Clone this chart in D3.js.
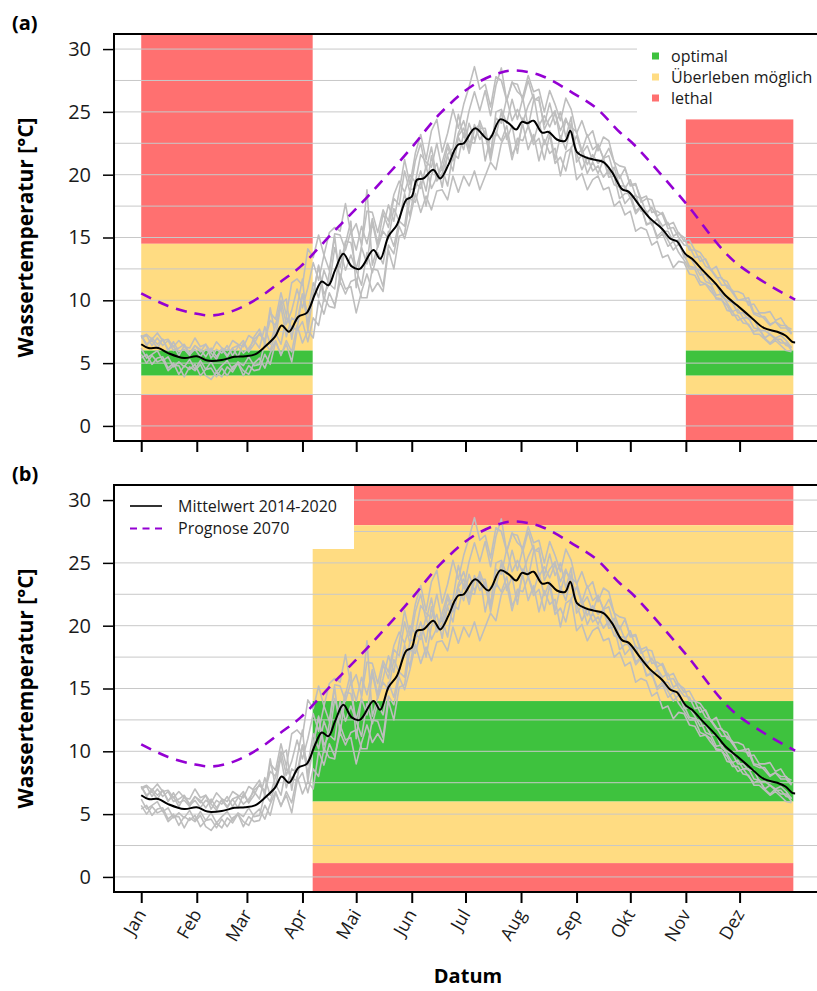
<!DOCTYPE html>
<html>
<head>
<meta charset="utf-8">
<script src="https://cdn.jsdelivr.net/npm/d3@7"></script>
<style>
  body { margin: 0; background: #fff; }
  svg { display: block; font-family: "Open Sans", sans-serif; }
</style>
</head>
<body>
<div id="chart"></div>
<script>
// Month ticks (day of year, 0 = 1 Jan)
const monthLabels = ['Jan', 'Feb', 'Mar', 'Apr', 'Mai', 'Jun', 'Jul', 'Aug', 'Sep', 'Okt', 'Nov', 'Dez'];
const monthStarts = [0, 31, 59, 90, 120, 151, 181, 212, 243, 273, 304, 334];
const yTicks = [0, 5, 10, 15, 20, 25, 30];
const gridValues = [0, 2.5, 5, 7.5, 10, 12.5, 15, 17.5, 20, 22.5, 25, 27.5, 30];

// Mittelwert 2014-2020
const meanDays = [0, 4, 9.5, 15, 24, 31, 37, 45, 52, 58, 63.5, 69, 74.7, 78.4, 82.5, 87.7, 92.4, 97, 100.8, 104.5,
  108.2, 112.8, 117.5, 122, 129.6, 133.4, 138, 142.7, 147.9, 151, 153.9, 157.6, 163, 166.9, 171.5, 175, 177, 180,
  186.4, 193.9, 200.4, 205, 209.3, 212.5, 215.6, 219, 223.7, 227.4, 232, 236.7, 239.5, 243.2, 247.9, 252.5, 258,
  262.8, 268.4, 272, 278.6, 284.2, 290.7, 295.4, 299, 303.7, 307.5, 314, 320.5, 326, 332.6, 340, 347.5, 355, 359.6,
  363.4, 365];
const meanValues = [6.5, 6.2, 6.2, 5.8, 5.4, 5.55, 5.2, 5.25, 5.5, 5.55, 5.7, 6.3, 7.1, 8.0, 7.5, 8.7, 9.0, 10.5, 11.5, 11.2,
  12.4, 13.7, 12.7, 12.5, 14.0, 13.3, 15.1, 16.0, 18.0, 18.25, 19.6, 19.7, 20.4, 19.7, 20.8, 22.0, 22.4, 22.5,
  23.7, 22.8, 24.4, 24.1, 23.6, 24.2, 24.1, 24.3, 23.35, 23.4, 22.8, 22.7, 23.5, 21.8, 21.4, 21.2, 21.0,
  20.2, 18.85, 18.65, 17.45, 16.5, 15.7, 14.9, 14.7, 13.7, 13.3, 12.3, 11.35, 10.4, 9.6, 8.7, 7.8, 7.5, 7.2,
  6.7, 6.65];

// Prognose 2070
const forecastDays = [0, 15, 30, 40, 52, 65, 78, 89, 107, 126, 150, 167, 185, 200, 208, 223, 241, 254, 267, 275, 303, 331, 365];
const forecastValues = [10.55, 9.55, 8.95, 8.8, 9.2, 10.15, 11.5, 12.7, 15.4, 18.2, 22.0, 24.9, 27.1, 28.1, 28.3, 27.9,
  26.5, 25.3, 23.4, 22.4, 17.9, 13.1, 10.05];

// single years, one value every 3 days
const sampleStep = 3;
const year2014 = [7.1, 7.3, 6.9, 7.4, 6.8, 6.9, 6.3, 6.8, 6.3, 6.2, 7.0, 6.3, 6.5, 5.9, 6.7, 6.2, 6.0, 6.8, 6.5, 6.3, 7.2, 6.9,
  7.3, 6.8, 8.4, 8.0, 10.0, 8.1, 9.2, 10.9, 9.4, 11.0, 13.0, 11.6, 13.6, 12.4, 15.3, 15.2, 14.0, 15.5, 14.0, 15.9, 14.5, 16.5, 14.5, 16.9,
  15.8, 18.1, 17.6, 20.3, 18.6, 21.1, 22.5, 20.4, 22.2, 19.7, 21.0, 22.5, 21.4, 23.3, 24.3, 22.6, 22.5, 24.3, 23.1, 21.4, 25.0, 25.2,
  24.1, 26.0, 24.4, 26.1, 23.8, 25.9, 26.2, 23.6, 24.5, 25.1, 22.7, 24.3, 23.8,
  23.4, 21.9, 23.2, 22.0, 22.4, 21.3, 22.1, 21.0, 19.7, 20.5, 19.2, 19.3, 17.8, 18.1, 18.0, 16.7, 17.0, 16.0, 16.2, 15.3,
  15.0, 14.0, 14.0, 13.1, 13.3, 12.4, 11.8, 11.8, 11.0, 10.8, 10.0, 10.0, 9.9, 8.9, 8.7, 8.7, 8.1, 8.3, 7.8, 7.8, 7.3];
const year2015 = [5.7, 5.0, 5.6, 5.1, 5.3, 4.4, 4.8, 4.8, 3.9, 4.7, 4.4, 4.9, 4.0, 3.7, 4.3, 3.9, 4.7, 4.3, 5.0, 4.0, 4.8, 4.4,
  4.5, 5.7, 4.9, 6.7, 5.7, 6.5, 5.1, 7.6, 8.3, 6.7, 8.6, 8.0, 10.2, 9.5, 9.4, 12.1, 10.9, 11.1, 9.0, 10.7, 12.1, 10.7, 11.4, 10.7,
  14.0, 12.5, 15.1, 15.3, 18.1, 17.8, 19.5, 17.5, 20.0, 20.9, 19.0, 21.6, 22.1, 24.8, 23.0, 25.1, 26.6, 25.1, 26.7, 24.7, 27.1, 28.5,
  25.9, 27.3, 27.2, 25.9, 27.5, 26.0, 25.9, 24.0, 25.7, 24.0, 25.0, 23.0, 24.6,
  21.0, 21.6, 20.1, 21.0, 20.1, 21.2, 19.8, 19.9, 18.1, 18.5, 18.5, 17.1, 17.5, 16.0, 16.2, 15.1, 15.5, 14.8, 14.0, 14.5,
  13.6, 12.7, 12.6, 12.4, 11.5, 11.3, 10.4, 10.5, 9.8, 9.1, 9.3, 8.6, 8.6, 7.8, 7.7, 7.0, 7.3, 6.9, 6.9, 6.4, 6.3];
const year2016 = [7.2, 6.5, 6.8, 6.2, 6.9, 6.1, 6.4, 5.6, 6.4, 5.7, 6.1, 5.5, 6.1, 5.8, 5.3, 6.2, 5.6, 6.2, 5.5, 6.6, 5.9, 6.5,
  7.4, 6.8, 9.0, 8.5, 10.6, 8.8, 11.4, 11.7, 11.2, 14.1, 13.4, 15.2, 13.6, 15.4, 15.8, 15.5, 17.7, 15.3, 16.1, 14.4, 17.1, 17.0, 15.4, 17.2,
  16.3, 18.4, 19.5, 18.6, 20.0, 19.4, 21.6, 21.0, 20.6, 22.5, 20.4, 22.2, 21.1, 23.1, 23.7, 22.1, 24.0, 22.8, 23.5, 21.1, 23.4, 22.7,
  23.9, 21.6, 22.4, 24.0, 22.0, 23.2, 21.1, 22.8, 21.7, 22.1, 19.9, 21.8, 22.1,
  23.1, 21.7, 22.3, 21.1, 22.4, 21.3, 21.5, 20.0, 20.0, 18.9, 19.6, 18.3, 18.1, 16.9, 17.4, 16.6, 15.9, 16.2, 15.1, 15.4,
  14.7, 14.8, 14.0, 13.8, 13.2, 12.4, 12.7, 11.7, 11.5, 10.7, 10.7, 10.5, 9.6, 9.7, 9.0, 9.0, 9.1, 8.4, 8.6, 7.9, 7.7];
const year2017 = [5.4, 5.7, 4.9, 5.4, 5.5, 4.6, 5.0, 4.1, 4.8, 4.5, 4.9, 4.0, 4.5, 4.6, 3.9, 4.6, 4.0, 4.7, 5.0, 4.4, 4.1, 5.0,
  5.4, 4.6, 5.8, 6.8, 5.6, 6.8, 5.9, 8.0, 6.6, 7.6, 7.0, 10.0, 8.9, 10.6, 9.6, 11.5, 10.5, 11.5, 11.7, 10.2, 10.2, 12.5, 12.4, 11.1,
  14.4, 13.7, 15.9, 14.9, 16.5, 18.5, 17.0, 18.3, 17.2, 18.7, 18.8, 18.0, 19.9, 18.6, 19.9, 19.1, 20.3, 18.8, 19.9, 21.0, 20.4, 22.5,
  23.3, 21.2, 22.9, 22.7, 23.9, 22.4, 22.9, 21.2, 23.2, 20.9, 21.4, 20.3, 22.2,
  19.6, 20.1, 18.8, 19.6, 19.9, 18.8, 19.0, 17.5, 17.9, 16.8, 17.1, 15.5, 15.8, 15.6, 14.4, 14.7, 13.4, 13.6, 12.6, 13.1,
  13.0, 12.1, 12.0, 11.2, 11.3, 10.7, 10.2, 10.1, 9.2, 9.1, 8.4, 8.6, 8.0, 7.5, 7.7, 7.0, 6.6, 7.0, 6.6, 6.6, 6.0];
const year2018 = [7.0, 7.2, 6.4, 7.0, 6.4, 6.8, 6.0, 6.2, 6.5, 5.8, 6.4, 5.9, 6.5, 5.4, 6.1, 5.8, 6.4, 5.6, 6.3, 6.8, 5.9, 7.1,
  7.7, 6.5, 9.4, 7.1, 9.7, 10.1, 6.9, 9.5, 11.7, 7.6, 10.5, 12.8, 9.9, 12.2, 15.1, 11.4, 14.5, 16.3, 11.0, 14.4, 18.8, 12.8, 14.3, 15.8,
  17.6, 16.3, 18.7, 21.2, 19.2, 21.7, 23.2, 21.2, 23.5, 24.4, 21.8, 23.3, 25.2, 23.7, 25.6, 27.0, 28.6, 26.8, 27.2, 25.4, 27.8, 27.5,
  25.9, 27.4, 26.6, 26.2, 27.9, 26.6, 26.8, 25.0, 26.7, 25.6, 24.3, 26.1, 25.2,
  23.3, 24.3, 23.0, 23.5, 21.9, 23.0, 22.7, 21.0, 20.7, 20.6, 19.1, 19.2, 18.1, 18.3, 17.0, 17.1, 16.8, 15.7, 15.8, 15.0,
  14.4, 14.3, 13.4, 13.5, 12.7, 12.5, 11.9, 11.2, 11.2, 10.6, 10.0, 10.1, 10.2, 9.0, 8.9, 8.5, 8.0, 8.3, 8.0, 8.0, 7.4];
const year2019 = [6.2, 5.4, 5.7, 6.0, 5.2, 5.5, 4.7, 5.1, 4.7, 5.3, 4.5, 5.2, 4.5, 5.1, 4.3, 4.8, 5.2, 4.5, 5.1, 4.8, 5.5, 4.8,
  4.9, 6.6, 6.0, 7.4, 6.5, 8.7, 7.8, 7.7, 10.5, 8.9, 11.4, 10.2, 12.4, 11.2, 14.2, 12.6, 14.7, 14.6, 12.5, 14.2, 12.9, 16.2, 14.2, 15.5,
  14.9, 17.3, 16.3, 18.5, 16.7, 19.4, 18.9, 20.7, 18.9, 19.8, 20.5, 19.1, 21.7, 21.3, 23.3, 21.7, 23.6, 24.0, 21.1, 23.1, 23.1, 25.0,
  22.8, 23.9, 21.7, 24.5, 23.9, 22.7, 24.2, 22.4, 23.5, 21.2, 23.1, 22.0, 24.1,
  21.7, 20.4, 21.4, 20.3, 20.7, 19.8, 20.4, 19.2, 19.0, 17.7, 18.2, 16.9, 17.4, 16.1, 16.2, 14.9, 15.3, 14.3, 14.7, 13.8,
  13.2, 12.5, 12.5, 11.5, 11.3, 11.0, 10.1, 10.0, 9.6, 8.8, 8.8, 8.2, 8.1, 7.3, 7.3, 6.9, 6.5, 6.8, 6.4, 6.0, 5.9];
const year2020 = [7.2, 6.4, 7.0, 6.5, 6.9, 6.0, 6.7, 5.9, 6.1, 5.6, 6.4, 6.1, 5.5, 6.2, 5.5, 6.1, 5.5, 6.2, 6.4, 5.8, 6.2, 6.8,
  6.2, 7.9, 6.5, 8.0, 9.5, 7.1, 8.6, 8.3, 10.5, 8.2, 10.5, 12.7, 10.5, 11.3, 10.9, 14.0, 12.4, 13.6, 12.4, 11.2, 13.8, 12.2, 13.8, 12.9,
  15.5, 14.3, 16.3, 15.9, 18.8, 18.9, 20.3, 18.7, 21.5, 19.5, 20.1, 21.5, 20.3, 23.0, 22.0, 24.1, 22.8, 23.7, 23.7, 21.7, 24.5, 24.1,
  26.1, 24.3, 25.2, 24.2, 25.5, 26.4, 23.9, 24.7, 23.8, 24.9, 23.5, 24.5, 23.3,
  21.6, 22.0, 20.8, 21.6, 20.9, 21.3, 20.0, 20.6, 19.1, 19.1, 18.1, 18.4, 17.1, 17.1, 16.0, 16.5, 15.5, 15.5, 14.7, 14.8,
  13.4, 13.5, 12.8, 12.0, 12.1, 11.3, 11.3, 10.3, 10.0, 9.8, 9.0, 9.0, 8.5, 8.5, 7.6, 7.6, 7.3, 7.0, 7.2, 6.8, 6.2];
const years = [year2014, year2015, year2016, year2017, year2018, year2019, year2020];

// temperature zones for each panel (days, degrees)
const zonesA = [
  { start: 0, end: 95.7, from: 14.5, to: 40, kind: 'lethal' },
  { start: 0, end: 95.7, from: 6, to: 14.5, kind: 'survive' },
  { start: 0, end: 95.7, from: 4, to: 6, kind: 'optimal' },
  { start: 0, end: 95.7, from: 2.5, to: 4, kind: 'survive' },
  { start: 0, end: 95.7, from: -5, to: 2.5, kind: 'lethal' },
  { start: 304, end: 364, from: 14.5, to: 24.4, kind: 'lethal' },
  { start: 304, end: 364, from: 6, to: 14.5, kind: 'survive' },
  { start: 304, end: 364, from: 4, to: 6, kind: 'optimal' },
  { start: 304, end: 364, from: 2.5, to: 4, kind: 'survive' },
  { start: 304, end: 364, from: -5, to: 2.5, kind: 'lethal' }
];
const zonesB = [
  { start: 95.7, end: 364, from: 28, to: 40, kind: 'lethal' },
  { start: 95.7, end: 364, from: 14, to: 28, kind: 'survive' },
  { start: 95.7, end: 364, from: 6, to: 14, kind: 'optimal' },
  { start: 95.7, end: 364, from: 1.1, to: 6, kind: 'survive' },
  { start: 95.7, end: 364, from: -5, to: 1.1, kind: 'lethal' }
];
const zoneLegend = [
  { kind: 'optimal', label: 'optimal' },
  { kind: 'survive', label: 'Überleben möglich' },
  { kind: 'lethal', label: 'lethal' }
];
const zoneColor = { optimal: '#3ec23e', survive: '#ffdc82', lethal: '#ff7070' };

const width = 817, height = 991;
const plotLeft = 114, plotRight = 822, plotHeight = 407;
const meanColor = '#000', forecastColor = '#9400d3', grayColor = '#bebebe';

const x = d3.scaleLinear().domain([-15.2, 380]).range([plotLeft, plotRight]);

const svg = d3.select('#chart').append('svg')
  .attr('width', width)
  .attr('height', height);

const panels = [
  { id: 'a', tag: '(a)', top: 34, zones: zonesA, showLabels: false },
  { id: 'b', tag: '(b)', top: 485, zones: zonesB, showLabels: true }
];

panels.forEach(p => drawPanel(p));

function drawPanel(p) {
  const y = d3.scaleLinear().domain([-1.2, 31.2]).range([p.top + plotHeight, p.top]);
  const g = svg.append('g');

  g.append('clipPath').attr('id', 'clip-' + p.id)
    .append('rect')
    .attr('x', plotLeft).attr('y', p.top)
    .attr('width', plotRight - plotLeft).attr('height', plotHeight);

  const inner = g.append('g').attr('clip-path', `url(#clip-${p.id})`);

  // zones
  inner.selectAll('rect.zone')
    .data(p.zones)
    .join('rect')
    .attr('class', 'zone')
    .attr('x', d => x(d.start))
    .attr('width', d => x(d.end) - x(d.start))
    .attr('y', d => y(d.to))
    .attr('height', d => y(d.from) - y(d.to))
    .attr('fill', d => zoneColor[d.kind]);

  // grid
  inner.selectAll('line.grid')
    .data(gridValues)
    .join('line')
    .attr('class', 'grid')
    .attr('x1', plotLeft).attr('x2', plotRight)
    .attr('y1', d => y(d)).attr('y2', d => y(d))
    .attr('stroke', '#c8c8c8')
    .attr('stroke-width', 1);

  // single years
  const yearLine = d3.line()
    .x((d, i) => x(i * sampleStep))
    .y(d => y(d));
  inner.selectAll('path.year')
    .data(years)
    .join('path')
    .attr('class', 'year')
    .attr('d', yearLine)
    .attr('fill', 'none')
    .attr('stroke', grayColor)
    .attr('stroke-width', 1.6)
    .attr('stroke-linejoin', 'round');

  // forecast
  const forecastLine = d3.line()
    .x(d => x(d[0]))
    .y(d => y(d[1]))
    .curve(d3.curveCatmullRom.alpha(0.5));
  inner.append('path')
    .attr('d', forecastLine(d3.zip(forecastDays, forecastValues)))
    .attr('fill', 'none')
    .attr('stroke', forecastColor)
    .attr('stroke-width', 2.6)
    .attr('stroke-dasharray', '11,8');

  // mean
  const meanLine = d3.line()
    .x(d => x(d[0]))
    .y(d => y(d[1]))
    .curve(d3.curveCatmullRom.alpha(0.5));
  inner.append('path')
    .attr('d', meanLine(d3.zip(meanDays, meanValues)))
    .attr('fill', 'none')
    .attr('stroke', meanColor)
    .attr('stroke-width', 2);

  // legends
  if (p.id === 'a') {
    const lg = inner.append('g');
    lg.append('rect')
      .attr('x', 637).attr('y', p.top)
      .attr('width', 200).attr('height', 82)
      .attr('fill', '#fff');
    const item = lg.selectAll('g.item')
      .data(zoneLegend)
      .join('g')
      .attr('transform', (d, i) => `translate(652,${p.top + 22 + i * 21})`);
    item.append('rect')
      .attr('x', 0).attr('y', -3.5)
      .attr('width', 7).attr('height', 7)
      .attr('fill', d => zoneColor[d.kind]);
    item.append('text')
      .attr('x', 19).attr('dy', '0.35em')
      .attr('font-size', 16)
      .attr('fill', '#1a1a1a')
      .text(d => d.label);
  } else {
    const lg = inner.append('g');
    lg.append('rect')
      .attr('x', plotLeft).attr('y', p.top)
      .attr('width', 354 - plotLeft).attr('height', 64)
      .attr('fill', '#fff');
    const items = [
      { label: 'Mittelwert 2014-2020', color: meanColor, dash: null, w: 1.6 },
      { label: 'Prognose 2070', color: forecastColor, dash: '7,5.5', w: 2 }
    ];
    const item = lg.selectAll('g.item')
      .data(items)
      .join('g')
      .attr('transform', (d, i) => `translate(130,${p.top + 21 + i * 22.6})`);
    item.append('line')
      .attr('x1', 0).attr('x2', 32)
      .attr('stroke', d => d.color)
      .attr('stroke-width', d => d.w)
      .attr('stroke-dasharray', d => d.dash);
    item.append('text')
      .attr('x', 48).attr('dy', '0.35em')
      .attr('font-size', 16)
      .attr('fill', '#1a1a1a')
      .text(d => d.label);
  }

  // box
  g.append('rect')
    .attr('x', plotLeft).attr('y', p.top)
    .attr('width', plotRight - plotLeft).attr('height', plotHeight)
    .attr('fill', 'none')
    .attr('stroke', '#000')
    .attr('stroke-width', 2);

  // y axis
  const yAxis = g.append('g')
    .attr('transform', `translate(${plotLeft},0)`)
    .call(d3.axisLeft(y).tickValues(yTicks).tickSize(11).tickPadding(12));
  yAxis.select('.domain').remove();
  yAxis.selectAll('line').attr('stroke', '#000').attr('stroke-width', 1.5);
  yAxis.selectAll('text')
    .attr('font-size', 20)
    .attr('font-family', '"Open Sans", sans-serif')
    .attr('fill', '#1a1a1a');

  // x axis
  const xAxis = g.append('g')
    .attr('transform', `translate(0,${p.top + plotHeight})`)
    .call(d3.axisBottom(x).tickValues(monthStarts).tickSize(11)
      .tickFormat((d, i) => p.showLabels ? monthLabels[i] : ''));
  xAxis.select('.domain').remove();
  xAxis.selectAll('line').attr('stroke', '#000').attr('stroke-width', 2);
  xAxis.selectAll('text')
    .attr('font-size', 18)
    .attr('font-family', '"Open Sans", sans-serif')
    .attr('fill', '#1a1a1a')
    .attr('text-anchor', 'end')
    .attr('x', 0).attr('y', 0).attr('dy', 0)
    .attr('transform', 'translate(5,22) rotate(-60)');

  // y title
  g.append('text')
    .attr('transform', `translate(33,${p.top + plotHeight / 2}) rotate(-90)`)
    .attr('text-anchor', 'middle')
    .attr('font-size', 21)
    .attr('font-weight', 'bold')
    .attr('fill', '#000')
    .text('Wassertemperatur [°C]');

  // panel tag
  g.append('text')
    .attr('x', 12).attr('y', p.top - 4)
    .attr('font-size', 20)
    .attr('font-weight', 'bold')
    .attr('fill', '#000')
    .text(p.tag);
}

// x title
svg.append('text')
  .attr('x', 468).attr('y', 983)
  .attr('text-anchor', 'middle')
  .attr('font-size', 20)
  .attr('font-weight', 'bold')
  .attr('fill', '#000')
  .text('Datum');
</script>
</body>
</html>
